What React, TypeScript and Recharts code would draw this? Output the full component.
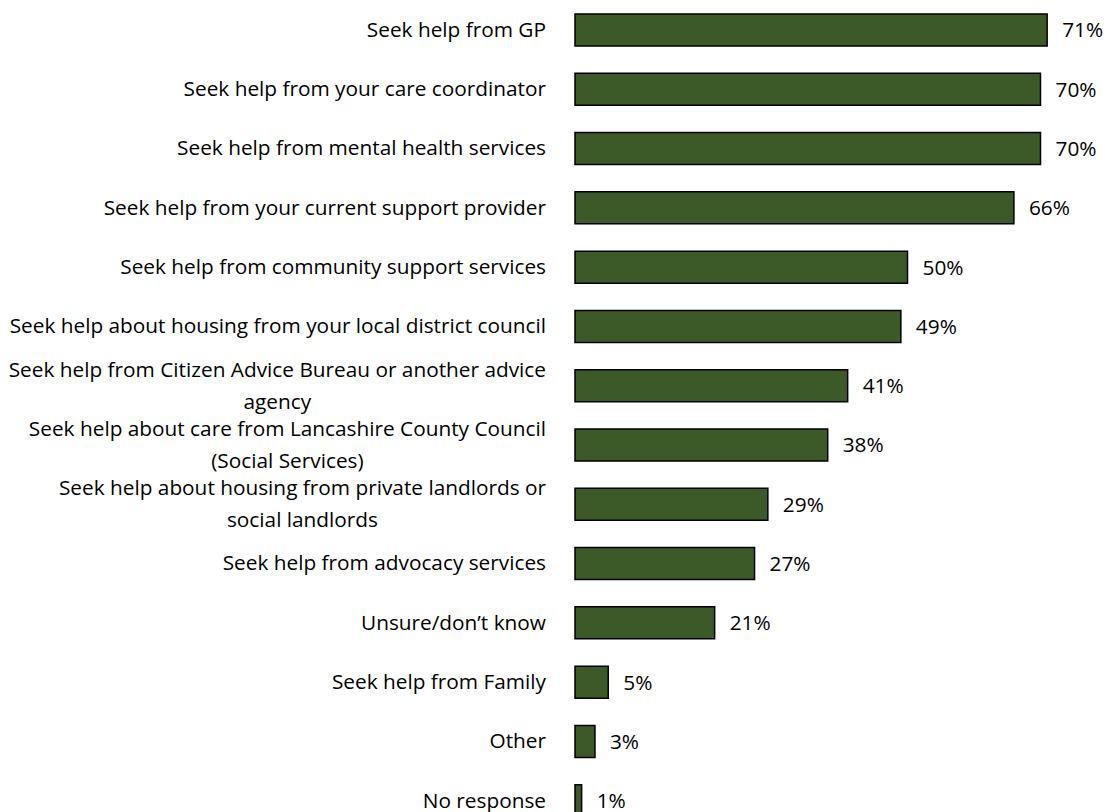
import { useLayoutEffect, useRef, useState } from 'react';
import { Bar, BarChart, LabelList, XAxis, YAxis } from 'recharts';

const categories = [
  'Seek help from GP',
  'Seek help from your care coordinator',
  'Seek help from mental health services',
  'Seek help from your current support provider',
  'Seek help from community support services',
  'Seek help about housing from your local district council',
  'Seek help from Citizen Advice Bureau or another advice\nagency',
  'Seek help about care from Lancashire County Council\n(Social Services)',
  'Seek help about housing from private landlords or\nsocial landlords',
  'Seek help from advocacy services',
  'Unsure/don\u2019t know',
  'Seek help from Family',
  'Other',
  'No response',
];

const values = [71, 70, 70, 66, 50, 49, 41, 38, 29, 27, 21, 5, 3, 1];

const data = categories.map((name, i) => ({ name, value: values[i] }));

const FONT = '"Open Sans", sans-serif';
const FONT_SIZE = 20.8;

function CategoryTick(props: any) {
  const { x, y, payload } = props;
  const lines: string[] = String(payload.value).split('\n');
  const ref = useRef<SVGTextElement>(null);
  const [w, setW] = useState<number | null>(null);
  const right = x - 23;

  useLayoutEffect(() => {
    if (ref.current) setW(ref.current.getComputedTextLength());
  }, [payload.value]);

  if (lines.length === 1) {
    return (
      <text x={right} y={y} dy="0.35em" textAnchor="end" fill="#000" fontSize={FONT_SIZE} fontFamily={FONT}>
        {lines[0]}
      </text>
    );
  }
  const cx = w == null ? right : right - w / 2;
  return (
    <g>
      {lines.map((line, i) => (
        <text
          key={i}
          ref={i === 0 ? ref : undefined}
          x={i === 0 ? right : cx}
          y={y + (i === 0 ? -16 : 16)}
          dy="0.35em"
          textAnchor={i === 0 ? 'end' : 'middle'}
          fill="#000"
          fontSize={FONT_SIZE}
          fontFamily={FONT}
        >
          {line}
        </text>
      ))}
    </g>
  );
}

export default function App() {
  return (
    <div style={{ position: 'absolute', left: 0, top: 0, background: '#fff' }}>
      <BarChart
        width={1107}
        height={830}
        data={data}
        layout="vertical"
        margin={{ top: 0, right: 0, bottom: 0, left: 0 }}
        barCategoryGap={0}
      >
        <XAxis type="number" domain={[0, 80]} hide />
        <YAxis
          type="category"
          dataKey="name"
          width={575}
          tickLine={false}
          axisLine={false}
          tickMargin={0}
          interval={0}
          tick={<CategoryTick />}
        />
        <Bar dataKey="value" fill="#3b5a28" stroke="#000" strokeWidth={1.5} barSize={32} isAnimationActive={false}>
          <LabelList
            dataKey="value"
            position="right"
            offset={15}
            formatter={(v: any) => `${v}%`}
            fill="#000"
            fontSize={FONT_SIZE}
            fontFamily={FONT}
          />
        </Bar>
      </BarChart>
    </div>
  );
}
